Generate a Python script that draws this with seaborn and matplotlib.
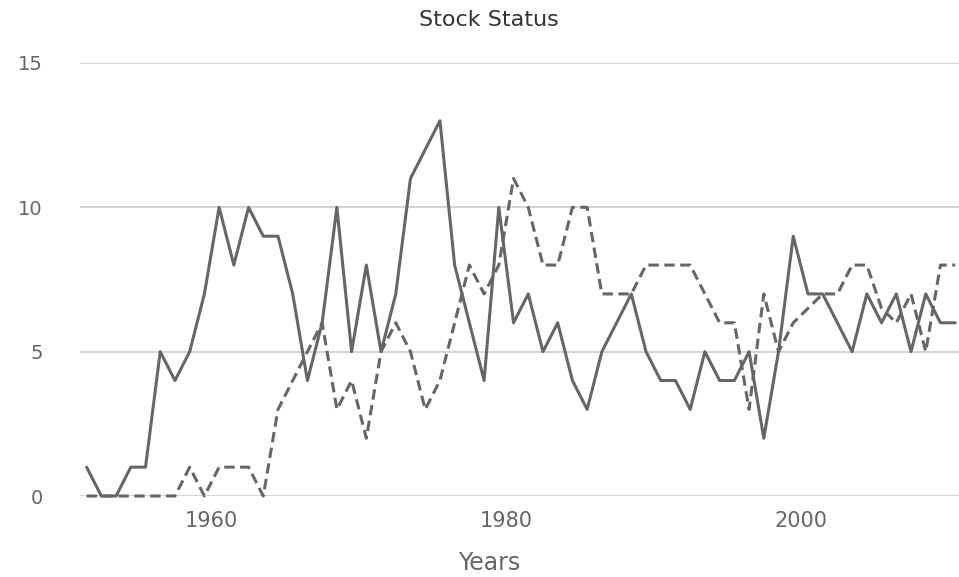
import matplotlib
matplotlib.use("Agg")
import matplotlib.pyplot as plt
import seaborn as sns
import pandas as pd

# data
years = list(range(1951, 2011))
solid_vals = [1, 0, 0, 1, 1, 5, 4, 5, 7, 10, 8, 10, 9, 9, 7, 4, 6, 10, 5, 8,
              5, 7, 11, 12, 13, 8, 6, 4, 10, 6, 7, 5, 6, 4, 3, 5, 6, 7, 5, 4,
              4, 3, 5, 4, 4, 5, 2, 5, 9, 7, 7, 6, 5, 7, 6, 7, 5, 7, 6, 6]
dashed_vals = [0, 0, 0, 0, 0, 0, 0, 1, 0, 1, 1, 1, 0, 3, 4, 5, 6, 3, 4, 2,
               5, 6, 5, 3, 4, 6, 8, 7, 8, 11, 10, 8, 8, 10, 10, 7, 7, 7, 8, 8,
               8, 8, 7, 6, 6, 3, 7, 5, 6, 6.5, 7, 7, 8, 8, 6.5, 6, 7, 5, 8, 8]
y_ticks = [0, 5, 10, 15]
x_ticks = [1960, 1980, 2000]

sns.set_style("white")
plt.rcParams["font.family"] = ["DejaVu Sans"]

df = pd.DataFrame({
    "x": [y + 0.5 for y in years] * 2,
    "value": solid_vals + dashed_vals,
    "series": ["solid"] * len(years) + ["dashed"] * len(years),
})

fig = plt.figure(figsize=(9.59, 5.77), dpi=100)
ax = fig.add_axes([80 / 959, 1 - 496 / 577, 879 / 959, (496 - 63) / 577])

sns.lineplot(data=df, x="x", y="value", style="series",
             dashes={"solid": "", "dashed": (3.4, 1.8)},
             color="#666666", linewidth=2.2, legend=False, ax=ax, clip_on=False)

ax.set_xlim(1951.05, 2010.76)
ax.set_ylim(0, 15)
ax.set_yticks(y_ticks)
ax.set_xticks(x_ticks)
ax.yaxis.grid(True, color="#cccccc", linewidth=1.2)
ax.set_axisbelow(True)
for s in ax.spines.values():
    s.set_visible(False)

ax.tick_params(axis="y", length=0, pad=27, labelsize=14, labelcolor="#666666")
ax.tick_params(axis="x", length=6, width=1, color="#cccccc", pad=5,
               labelsize=15, labelcolor="#666666")

ax.set_xlabel("Years", fontsize=17, color="#666666", va="center")
ax.xaxis.set_label_coords((489 - 80) / 879 + 0.0, (496 - 563) / 433)
ax.set_ylabel("")
fig.text(489 / 959, 1 - 20 / 577, "Stock Status", ha="center", va="center",
         fontsize=16, color="#333333")

fig.savefig("out.png", dpi=100)
